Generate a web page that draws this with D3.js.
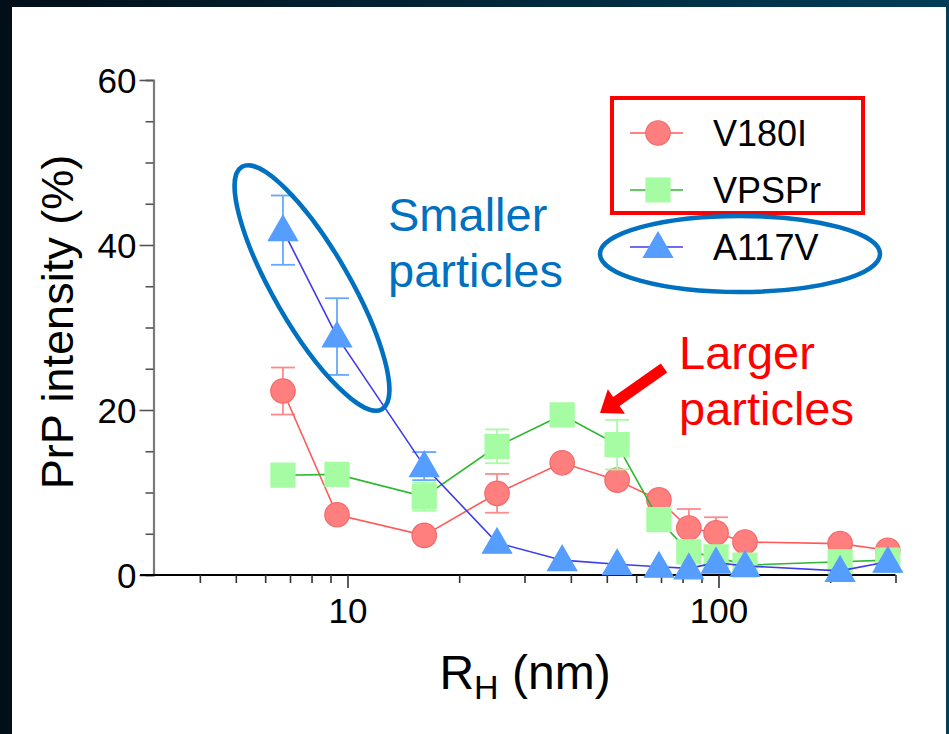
<!DOCTYPE html>
<html><head><meta charset="utf-8">
<script src="https://cdn.jsdelivr.net/npm/d3@7/dist/d3.min.js"></script>
<style>html,body{margin:0;padding:0;background:#fff;}svg{display:block;font-family:"Liberation Sans",Arial,sans-serif;}</style>
</head><body>
<svg id="c" width="949" height="734"></svg>
<script>
// ---- data ----
const radius = [6.7, 9.37, 16.1, 25.3, 37.9, 53.3, 69.1, 83.2, 98.5, 117.9, 212.7, 286];
const seriesNames = ["V180I", "VPSPr", "A117V"];
const v180i = [22.3, 7.3, 4.8, 9.9, 13.6, 11.5, 9.1, 5.7, 5.1, 4.0, 3.8, 3.0];
const v180iErr = [2.85, 0, 0, 2.35, 0, 0, 0, 2.3, 1.9, 0, 0, 0];
const vpspr = [12.1, 12.2, 9.5, 15.6, 19.4, 15.8, 6.7, 2.8, 2.2, 1.2, 1.6, 1.8];
const vpsprErr = [0, 0, 1.7, 2.05, 0, 3.0, 0, 0, 0, 0, 0, 0];
const a117v = [41.8, 28.9, 13.2, 3.9, 1.8, 1.3, 1.0, 0.8, 1.5, 1.1, 0.5, 1.6];
const a117vErr = [4.2, 4.65, 1.7, 0, 0, 0, 0, 0, 0, 0, 0, 0];
const yTicks = [0, 20, 40, 60];
const xTickLabels = [10, 100];
const xMinor = [4,5,6,7,8,9,20,30,40,50,60,70,80,90,200,300];
const xLabel = "R", xLabelSub = "H", xLabelRest = " (nm)";
const yLabel = "PrP intensity (%)";
const noteSmall = ["Smaller", "particles"];
const noteLarge = ["Larger", "particles"];

const svg = d3.select("#c");
// background
const defs = svg.append("defs");
const g0 = defs.append("linearGradient").attr("id","bg").attr("x1","0").attr("x2","1").attr("y1","0").attr("y2","0");
g0.append("stop").attr("offset","0").attr("stop-color","#020f18");
g0.append("stop").attr("offset","1").attr("stop-color","#033d57");
svg.append("rect").attr("width",949).attr("height",734).attr("fill","url(#bg)");
svg.append("rect").attr("x",12).attr("y",7).attr("width",934).attr("height",727).attr("fill","#fff");

const x = d3.scaleLog().domain([3, 300]).range([153.5, 895.5]);
const y = d3.scaleLinear().domain([0, 60]).range([575, 80]);

// y axis
const yAxisG = svg.append("g").attr("transform","translate(153.5,0)");
yAxisG.call(d3.axisLeft(y).tickValues(d3.range(0,61,5)).tickSize(8).tickFormat(""));
yAxisG.select(".domain").attr("stroke","#7a7a7a").attr("stroke-width",2.2);
yAxisG.selectAll(".tick line").attr("stroke","#555").attr("stroke-width",1.6)
  .attr("x2", d => yTicks.includes(d) ? -14 : -8);
yAxisG.selectAll(".tick").filter(d => yTicks.includes(d)).append("text")
  .attr("x",-17).attr("dy","0.36em").attr("text-anchor","end")
  .attr("fill","#000").attr("font-size",35).text(d=>d);

// x axis
const xAxisG = svg.append("g").attr("transform","translate(0,575)");
xAxisG.call(d3.axisBottom(x).tickValues(xTickLabels.concat(xMinor)).tickSize(8).tickFormat(""));
xAxisG.select(".domain").attr("stroke","#000").attr("stroke-width",2.2)
  .attr("d", `M140,0H${x(300)}`);
xAxisG.selectAll(".tick line").attr("stroke","#333").attr("stroke-width",1.6)
  .attr("y2", d => xTickLabels.includes(d) ? 13 : 8);
xAxisG.selectAll(".tick").filter(d => xTickLabels.includes(d)).append("text")
  .attr("y",48).attr("text-anchor","middle").attr("fill","#000").attr("font-size",35).text(d=>d);

// axis titles
svg.append("text").attr("transform","translate(73,322) rotate(-90)").attr("text-anchor","middle")
  .attr("font-size",45).attr("fill","#000").text(yLabel);
const xt = svg.append("text").attr("x",525).attr("y",689).attr("text-anchor","middle").attr("font-size",48).attr("fill","#000");
xt.append("tspan").text(xLabel);
xt.append("tspan").attr("font-size",34).attr("dy",10).text(xLabelSub);
xt.append("tspan").attr("dy",-10).text(xLabelRest);

// series
const series = [
  {name:seriesNames[0], vals:v180i, err:v180iErr, line:"#ff5a5a", fill:"#ff7f7f", stroke:"#f26a6a", ebar:"#ff8a8a", sym:d3.symbolCircle, size:470},
  {name:seriesNames[1], vals:vpspr, err:vpsprErr, line:"#2eb82e", fill:"#a6fca2", stroke:"#a6fca2", ebar:"#a6fca2", sym:d3.symbolSquare, size:576},
  {name:seriesNames[2], vals:a117v, err:a117vErr, line:"#3b3bf0", fill:"#559dff", stroke:"#559dff", ebar:"#66a8ff", sym:d3.symbolTriangle, size:370}
];
const lineGen = d3.line().x(d=>x(d.r)).y(d=>y(d.v));
series.forEach(s => {
  const pts = radius.map((r,i)=>({r, v:s.vals[i], e:s.err[i]}));
  const g = svg.append("g");
  pts.filter(p=>p.e>0).forEach(p => {
    const cx = x(p.r);
    g.append("line").attr("x1",cx).attr("x2",cx).attr("y1",y(p.v+p.e)).attr("y2",y(p.v-p.e)).attr("stroke",s.ebar).attr("stroke-width",1.8);
    [p.v+p.e, p.v-p.e].forEach(v => g.append("line").attr("x1",cx-12).attr("x2",cx+12).attr("y1",y(v)).attr("y2",y(v)).attr("stroke",s.ebar).attr("stroke-width",1.8));
  });
  g.append("path").datum(pts).attr("d",lineGen).attr("fill","none").attr("stroke",s.line).attr("stroke-width",1.6);
  g.selectAll("path.m").data(pts).join("path").attr("class","m")
    .attr("transform",p=>`translate(${x(p.r)},${y(p.v) + (s.sym===d3.symbolTriangle?2:0)})`)
    .attr("d", d3.symbol().type(s.sym).size(s.size)).attr("fill",s.fill).attr("stroke",s.stroke).attr("stroke-width",1.2);
});

// legend
const legY = [133, 190, 247];
series.forEach((s,i) => {
  const g = svg.append("g").attr("transform",`translate(658,${legY[i]})`);
  g.append("line").attr("x1",-28).attr("x2",25).attr("stroke",s.line).attr("stroke-width",1.6);
  g.append("path").attr("d", d3.symbol().type(s.sym).size(s.size)).attr("transform", s.sym===d3.symbolTriangle?"translate(0,2)":null)
    .attr("fill",s.fill).attr("stroke",s.stroke).attr("stroke-width",1.2);
  g.append("text").attr("x",55).attr("dy","0.36em").attr("font-size",36).attr("fill","#000").text(s.name);
});
svg.append("rect").attr("x",612).attr("y",98).attr("width",251).attr("height",115).attr("fill","none").attr("stroke","#ff0000").attr("stroke-width",4);
svg.append("ellipse").attr("cx",740).attr("cy",254).attr("rx",140).attr("ry",38).attr("fill","none").attr("stroke","#0070c0").attr("stroke-width",4.5);

// annotations
svg.append("ellipse").attr("transform","translate(312,288) rotate(-30)").attr("rx",38).attr("ry",140)
  .attr("fill","none").attr("stroke","#0070c0").attr("stroke-width",4.5);
const ts = svg.append("text").attr("font-size",47).attr("fill","#0070c0");
ts.append("tspan").attr("x",388).attr("y",231).text(noteSmall[0]);
ts.append("tspan").attr("x",388).attr("y",287).text(noteSmall[1]);
const tl = svg.append("text").attr("font-size",47).attr("fill","#ff0000");
tl.append("tspan").attr("x",679).attr("y",369).text(noteLarge[0]);
tl.append("tspan").attr("x",679).attr("y",425).text(noteLarge[1]);
// arrow
svg.append("path").attr("d","M600,413 L607.8,389.2 L613.2,397.0 L660.8,363.5 L667.2,372.5 L619.6,406.0 L625.0,413.8 Z").attr("fill","#ff0000");
</script>
</body></html>
